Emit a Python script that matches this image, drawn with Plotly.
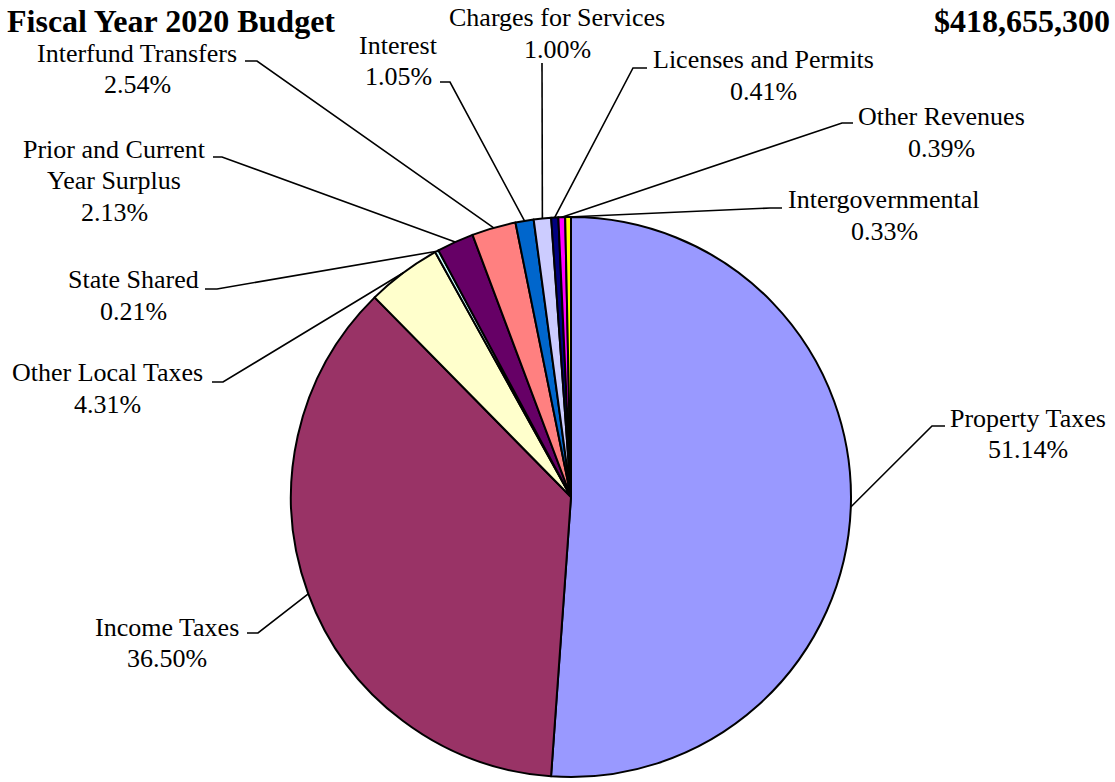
import math
import plotly.graph_objects as go

# ---- data ----
categories = ["Property Taxes", "Income Taxes", "Other Local Taxes", "State Shared",
              "Prior and Current Year Surplus", "Interfund Transfers", "Interest",
              "Charges for Services", "Licenses and Permits", "Other Revenues",
              "Intergovernmental"]
percents = [51.14, 36.50, 4.31, 0.21, 2.13, 2.54, 1.05, 1.00, 0.41, 0.39, 0.33]
label_lines = [["Property Taxes"], ["Income Taxes"], ["Other Local Taxes"], ["State Shared"],
               ["Prior and Current", "Year Surplus"], ["Interfund Transfers"], ["Interest"],
               ["Charges for Services"], ["Licenses and Permits"], ["Other Revenues"],
               ["Intergovernmental"]]
colors = ["#9999FF", "#993366", "#FFFFCC", "#CCFFFF", "#660066", "#FF8080",
          "#0066CC", "#CCCCFF", "#000080", "#FF00FF", "#FFFF00"]
title_left = "Fiscal Year 2020 Budget"
title_right = "$418,655,300"

# ---- layout constants ----
W, H = 1115, 782
CX, CY, R = 571, 497, 280
FONT = "Liberation Serif, Times New Roman, serif"
FS = 26
LINE_H = 31.5

# label placement: (text center x, first-line center y, stub outer x, stub inner x, stub y)
label_pos = [
    (1028, 418, 945, 932, 426),
    (167, 627, 247, 258, 633),
    (107, 373, 212, 223, 382),
    (133, 280, 205, 217, 289),
    (114, 149, 213, 222, 157),
    (137, 53, 245, 257, 61),
    (398, 45, 440, 450, 82),
    (557, 18, 542, 542, 63),
    (763, 60, 647, 633, 68),
    (941, 117, 853, 842, 123),
    (884, 200, 782, 770, 208),
]

fig = go.Figure(go.Pie(
    labels=categories, values=percents, sort=False, direction="clockwise", rotation=0,
    marker=dict(colors=colors, line=dict(color="black", width=2)),
    textinfo="none", hoverinfo="label+percent", showlegend=False,
    domain=dict(x=[(CX - R) / W, (CX + R) / W], y=[(H - CY - R) / H, (H - CY + R) / H]),
))

def px2paper(x, y):
    return x / W, 1 - y / H

total = sum(percents)
cum = 0.0
shapes = []
annotations = []
for i, v in enumerate(percents):
    mid = (cum + v / 2) / total
    cum += v
    ang = 2 * math.pi * mid
    ex = CX + R * math.sin(ang)
    ey = CY - R * math.cos(ang)
    tx, ty, sx_out, sx_in, sy = label_pos[i]
    p0 = px2paper(ex, ey)
    p1 = px2paper(sx_in, sy)
    p2 = px2paper(sx_out, sy)
    shapes.append(dict(type="path", xref="paper", yref="paper",
                       path=f"M {p0[0]} {p0[1]} L {p1[0]} {p1[1]} L {p2[0]} {p2[1]}",
                       line=dict(color="black", width=1.6)))
    lines = label_lines[i] + [f"{v:.2f}%"]
    for j, t in enumerate(lines):
        ax, ay = px2paper(tx, ty + j * LINE_H)
        annotations.append(dict(text=t, x=ax, y=ay, xref="paper", yref="paper",
                                xanchor="center", yanchor="middle", showarrow=False,
                                font=dict(family=FONT, size=FS, color="black")))

tl = px2paper(5, 21)
annotations.append(dict(text=f"<b>{title_left}</b>", x=tl[0], y=tl[1], xref="paper", yref="paper",
                        xanchor="left", yanchor="middle", showarrow=False,
                        font=dict(family=FONT, size=32, color="black")))
tr = px2paper(1112, 21)
annotations.append(dict(text=f"<b>{title_right}</b>", x=tr[0], y=tr[1], xref="paper", yref="paper",
                        xanchor="right", yanchor="middle", showarrow=False,
                        font=dict(family=FONT, size=32, color="black")))

fig.update_layout(width=W, height=H, margin=dict(l=0, r=0, t=0, b=0),
                  paper_bgcolor="white", plot_bgcolor="white",
                  shapes=shapes, annotations=annotations)
fig.write_html("out.html", config={"displayModeBar": False},
               post_script="document.body.style.margin='0px';")
